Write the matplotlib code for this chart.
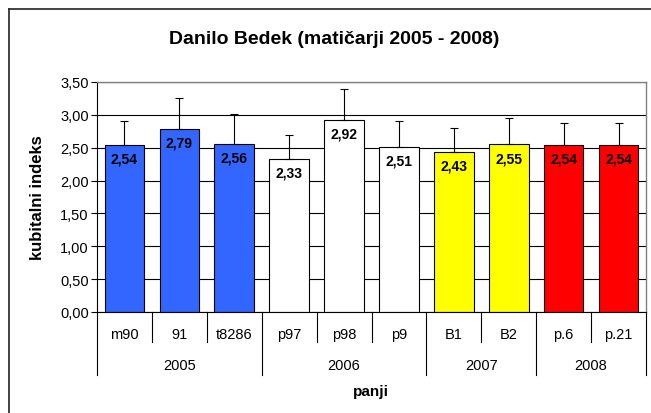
import matplotlib
matplotlib.use("Agg")
import matplotlib.pyplot as plt
from matplotlib.lines import Line2D
import matplotlib.transforms as mtransforms

plt.rcParams['font.family'] = ['Liberation Sans', 'DejaVu Sans']

categories = ["m90", "91", "t8286", "p97", "p98", "p9", "B1", "B2", "p.6", "p.21"]
values = [2.54, 2.79, 2.56, 2.33, 2.92, 2.51, 2.43, 2.55, 2.54, 2.54]
errors = [0.37, 0.47, 0.46, 0.36, 0.48, 0.39, 0.37, 0.40, 0.33, 0.33]
years = ["2005", "2006", "2007", "2008"]
year_sizes = [3, 3, 2, 2]
year_colors = ["#3366FF", "#FFFFFF", "#FFFF00", "#FF0000"]
yticks = [0.0, 0.5, 1.0, 1.5, 2.0, 2.5, 3.0, 3.5]

colors = []
for c, n in zip(year_colors, year_sizes):
    colors += [c] * n

fig = plt.figure(figsize=(6.51, 4.14), dpi=100)
ax = fig.add_axes([97/651, 1-313/414, (646-97)/651, (313-83)/414])

x = list(range(len(categories)))
ax.set_axisbelow(True)
ax.grid(axis='y', color='black', linewidth=0.8)
ax.bar(x, values, width=0.72, color=colors, edgecolor='black', linewidth=0.8, zorder=2)
ax.errorbar(x, values, yerr=[[0]*len(errors), errors], fmt='none', ecolor='black',
            elinewidth=0.8, capsize=3, capthick=0.8, zorder=3)
for xi, v in zip(x, values):
    ax.annotate(f"{v:.2f}".replace('.', ','), (xi, v), xytext=(0, -9.8),
                textcoords='offset points', ha='center', va='center',
                fontsize=10, fontweight='bold', zorder=4)

ax.set_xlim(-0.5, len(categories)-0.5)
ax.set_ylim(0, 3.5)
ax.set_yticks(yticks)
ax.set_yticklabels([f"{t:.2f}".replace('.', ',') for t in yticks], fontsize=10.5)
ax.tick_params(axis='y', direction='out', length=4, width=0.8, pad=2)
ax.set_xticks([])
for s in ['top', 'right']:
    ax.spines[s].set_color('#808080')
    ax.spines[s].set_linewidth(1.0)
ax.spines['left'].set_color('black')
ax.spines['bottom'].set_color('black')
ax.spines['left'].set_linewidth(0.8)
ax.spines['bottom'].set_linewidth(0.8)

trans = mtransforms.blended_transform_factory(ax.transData, ax.transAxes)
px = 1/230
bounds = [i - 0.5 for i in range(len(categories)+1)]
group_bounds = [-0.5]
acc = -0.5
for n in year_sizes:
    acc += n
    group_bounds.append(acc)
for b in bounds:
    length = 63 if b in group_bounds else 30
    ax.add_line(Line2D([b, b], [0, -length*px], transform=trans, color='black',
                       linewidth=0.8, clip_on=False))
for xi, c in zip(x, categories):
    ax.text(xi, -22*px, c, transform=trans, ha='center', va='center', fontsize=10.5)
for i, yname in enumerate(years):
    mid = (group_bounds[i] + group_bounds[i+1]) / 2
    ax.text(mid, -53*px, yname, transform=trans, ha='center', va='center', fontsize=10.5)

fig.text(371/651, 1-392/414, "panji", ha='center', va='center',
         fontsize=11, fontweight='bold')
fig.text(37/651, 1-198/414, "kubitalni indeks", ha='center', va='center',
         rotation=90, fontsize=12, fontweight='bold')
fig.text(334/651, 1-40/414, "Danilo Bedek (matičarji 2005 - 2008)", ha='center',
         va='center', fontsize=14, fontweight='bold')

# outer chart frame
fig.add_artist(Line2D([9/651, 1], [1-10/414, 1-10/414], transform=fig.transFigure,
                      color='#222222', linewidth=1.2))
fig.add_artist(Line2D([9/651, 9/651], [0, 1-10/414], transform=fig.transFigure,
                      color='#222222', linewidth=1.2))

fig.savefig("out.png", dpi=100)
